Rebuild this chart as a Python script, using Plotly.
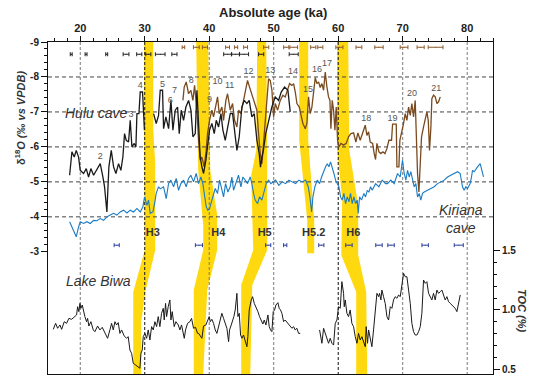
import plotly.graph_objects as go

# ---------------- data ----------------
hulu_black_age = [18.35, 18.71, 19.07, 19.38, 19.74, 20.0, 20.52, 20.93, 21.29, 21.65, 22.07, 22.48, 22.84, 23.10,
                  23.51, 23.77, 24.13, 24.44, 24.81, 25.17, 25.53, 25.94, 26.3, 26.61, 26.87, 27.13, 27.49, 27.75,
                  28.01, 28.37, 28.63, 28.79, 29.10, 29.30, 29.66, 29.82, 29.95, None,
                  31.37, 31.78, 32.14, 32.40, 32.76, 32.92, 33.28, 33.70, 34.06, 34.37, 34.73, 35.09, 35.35, 35.66,
                  36.02, 36.38, 36.80, 37.16, 37.47, 37.83, 38.09, 38.40, 38.60, 38.86, 39.12, 39.48, 39.74, 40.05,
                  40.41, 40.78, 41.09, 41.45, 41.81, 42.12, 42.48, 42.84, 43.26, 43.62, 43.93, 44.29, 44.65, 45.06,
                  45.43, 45.84, 46.20, 46.61, 46.98, 47.39, 47.75, 47.95, 48.17, 48.4, 48.76, 49.19, 49.5, 49.71,
                  50.23, 50.75, 51.16, 51.68, 52.2, 52.56]
hulu_black_d18o = [-5.19, -5.86, -5.71, -5.90, -5.71, -5.33, -5.24, -5.38, -5.14, -5.38, -5.19, -5.33, -5.43, -5.52,
                   -5.14, -4.86, -4.14, -5.43, -5.90, -5.43, -5.24, -5.52, -5.33, -5.71, -6.38, -6.19, -6.14, -6.76,
                   -6.0, -6.10, -6.0, -6.95, -6.95, -7.57, -7.57, -6.57, -6.48, None,
                   -6.95, -6.67, -6.9, -7.62, -7.62, -6.52, -6.86, -6.52, -7.33, -6.48, -7.05, -7.14, -6.38, -7.05,
                   -6.76, -7.14, -7.33, -7.05, -6.29, -6.38, -7.62, -6.38, -5.71, -5.43, -5.24, -5.62, -6.0, -6.48,
                   -6.67, -6.38, -6.76, -6.57, -6.95, -6.48, -6.19, -6.52, -6.95, -6.95, -6.38, -5.90, -6.29, -7.14,
                   -7.33, -7.24, -7.33, -6.86, -6.95, -6.19, -5.81, -5.42, -5.71, -5.9, -6.38, -6.76, -6.95, -7.14,
                   -7.43, -7.33, -7.57, -7.71, -7.62, -7.0]

hulu_brown_age = [35.92, 36.12, 36.43, 36.80, 37.16, 37.47, 37.73, 38.09, 38.35, 38.60, 38.86, 39.22, 39.53, 39.74,
                  40.05, 40.41, 40.67, 41.09, 41.29, 41.55, 41.96, 42.22, 42.58, 42.84, 43.26, 43.62, 43.93, 44.29,
                  44.55, 44.91, 45.22, 45.58, 45.94, 46.25, 46.61, 46.98, 47.39, 47.65, 47.91, 48.17, 48.42, 48.68,
                  48.94, 49.2, 49.46, 49.72, 49.98, 50.24, 50.6, 51.01, 51.42, 51.79, 52.15, 52.46, 52.82, 53.08,
                  53.34, 53.6, 53.96, 54.21, 54.52, 54.89, 55.14, 55.4, 55.66, 55.92, 56.18, 56.44, 56.7, 56.95,
                  57.21, 57.47, 57.73, 57.99, 58.25, 58.5, 58.71, 58.87, 59.07, 59.28, 59.49, 59.69, 59.9, 60.1,
                  60.42, 60.83, 61.24, 61.6, 61.97, 62.38, 62.74, 63.05, 63.41, 63.78, 64.19, 64.45, 64.71, 64.96,
                  65.33, 65.58, 65.79, 66.0, 66.31, 66.62, 66.93, 67.24, 67.55, 67.86, 68.27, 68.43, 69.0, 69.1,
                  69.41, 69.56, 69.82, 70.13, 70.39, 70.65, 70.91, 71.17, 71.42, 71.68, 71.94, 72.1, 72.3, 72.51,
                  72.72, 72.92, 73.23, 73.49, 73.75, 73.96, 74.16, 74.37, 74.52, 74.78, 75.04, 75.3, 75.56, 75.82]
hulu_brown_d18o = [-7.33, -7.71, -7.86, -7.52, -7.62, -7.33, -7.76, -7.05, -6.19, -5.62, -5.71, -5.43, -5.9, -6.38,
                   -6.76, -7.05, -6.86, -7.33, -7.43, -6.95, -7.14, -6.76, -7.33, -7.52, -7.05, -7.24, -6.76, -6.57,
                   -7.05, -6.95, -7.24, -7.52, -7.90, -7.71, -7.52, -7.33, -7.05, -6.38, -5.81, -5.52, -6.19, -6.86,
                   -7.33, -7.95, -7.90, -7.62, -6.86, -7.24, -7.05, -7.33, -7.48, -7.43, -7.67, -7.81, -7.76, -7.81,
                   -7.57, -7.24, -7.14, -6.9, -6.67, -6.52, -6.67, -7.43, -6.95, -7.14, -7.57, -7.98, -7.81, -7.86,
                   -7.7, -7.81, -7.62, -8.14, -7.71, -7.43, -7.33, -6.52, -7.33, -7.05, -6.48, -7.14, -6.19, -6.0,
                   -6.1, -6.05, -6.1, -6.29, -6.38, -6.4, -6.14, -6.4, -6.19, -6.38, -6.62, -6.33, -6.43, -6.14,
                   -6.1, -5.81, -5.64, -6.1, -5.86, -5.81, -5.86, -5.81, -5.95, -6.19, -6.19, -6.65, -6.65, -5.43,
                   -5.43, -6.19, -6.38, -6.67, -6.95, -6.76, -7.14, -6.9, -7.24, -6.86, -7.33, -6.19, -5.24, -4.71,
                   -5.43, -6.29, -6.57, -6.76, -7.0, -6.76, -5.9, -6.57, -7.38, -7.48, -7.43, -7.24, -7.29, -7.43]

kiriana_age = [18.35, 18.71, 19.07, 19.38, 19.74, 20.0, 20.52, 21.03, 21.55, 22.07, 22.58, 23.10, 23.62, 24.13,
               24.65, 25.17, 25.68, 26.20, 26.72, 27.24, 27.75, 28.27, 28.79, 29.30, 29.72, 29.97, 30.34, 30.59,
               30.85, 31.27, 31.52, 31.78, 32.14, 32.4, 32.92, 33.33, 33.69, 34.05, 34.47, 34.88, 35.24, 35.6,
               36.02, 36.43, 36.79, 37.15, 37.57, 37.98, 38.34, 38.71, 39.01, 39.27, 39.53, 39.79, 40.05, 40.26,
               40.57, 40.93, 41.29, 41.6, 41.86, 42.22, 42.53, 42.89, 43.25, 43.51, 43.77, 44.18, 44.54, 44.91,
               45.22, 45.58, 45.94, 46.35, 46.61, 46.87, 47.13, 47.49, 47.8, 48.16, 48.52, 48.83, 49.2, 49.56,
               50.29, 50.8, 51.32, 51.84, 52.35, 52.87, 53.39, 53.9, 54.42, 54.94, 55.35, 55.61, 55.87, 56.08,
               56.38, 56.75, 57.11, 57.42, 57.78, 58.04, 58.3, 58.56, 58.81, 59.07, 59.33, 59.59, 59.85, 60.1,
               60.36, 60.62, 60.88, 61.14, 61.4, 61.66, 61.91, 62.17, 62.43, 62.69, 62.95, 63.1, 63.31, 63.62,
               63.98, 64.24, 64.5, 64.76, 65.02, 65.27, 65.79, 66.31, 66.82, 67.34, 67.65, 68.16, 68.68, 69.2,
               69.61, 69.97, 70.23, 70.49, 70.75, 71.01, 71.26, 71.52, 71.78, 72.04, 72.3, 72.56, 72.81, 73.07,
               73.33, 73.85, 74.36, 74.88, 75.4, 75.92, 76.43, 76.95, 77.47, 77.98, 78.5, 78.91, 79.27, 79.53,
               79.79, 80.05, 80.46, 80.67, 80.82, 81.08, 81.34, 81.6, 82.01, 82.22, 82.53]
kiriana_d18o = [-3.86, -3.71, -3.52, -3.43, -3.71, -3.86, -3.81, -3.86, -3.81, -3.90, -3.89, -3.95, -3.90, -4.0,
                -4.05, -4.10, -4.05, -4.14, -4.19, -4.11, -4.19, -4.14, -4.24, -4.14, -4.29, -4.57, -4.33, -4.48,
                -4.10, -4.14, -4.38, -4.67, -4.86, -4.8, -4.86, -4.52, -4.95, -5.05, -4.86, -5.10, -4.76, -4.95,
                -5.05, -4.86, -5.10, -5.19, -5.0, -5.24, -4.95, -5.14, -4.95, -4.57, -4.29, -4.19, -4.24, -4.38,
                -4.57, -4.81, -4.67, -5.05, -4.86, -4.57, -4.95, -4.71, -4.86, -5.14, -4.76, -5.0, -5.19, -4.86,
                -5.14, -5.05, -4.95, -5.14, -4.95, -4.67, -4.48, -4.38, -4.57, -4.48, -4.76, -4.95, -5.05, -4.95,
                -5.05, -4.90, -5.0, -4.95, -5.05, -5.0, -4.95, -5.05, -5.0, -5.05, -4.86, -4.57, -4.14, -4.57,
                -4.86, -5.05, -4.95, -5.14, -5.33, -5.43, -5.52, -5.43, -5.57, -5.43, -5.24, -5.05, -4.95, -4.86,
                -4.57, -4.48, -4.67, -4.38, -4.57, -4.43, -4.67, -4.38, -4.57, -4.38, -4.48, -4.10, -4.57, -4.48,
                -4.67, -4.57, -4.76, -4.71, -4.86, -4.76, -4.95, -4.86, -5.05, -4.95, -4.95, -5.05, -4.95, -5.24,
                -5.14, -5.62, -5.24, -5.05, -5.33, -5.14, -5.29, -5.05, -4.86, -4.95, -4.57, -4.67, -4.48, -4.67,
                -4.71, -4.76, -4.81, -4.86, -4.95, -5.0, -5.05, -5.14, -5.19, -5.24, -5.29, -5.24, -4.86, -4.76,
                -4.86, -4.81, -4.95, -5.14, -5.33, -5.29, -5.38, -5.43, -5.52, -5.33, -5.14]

biwa_age = [15.82, 16.18, 16.49, 16.85, 17.11, 17.52, 17.88, 18.24, 18.66, 19.07, 19.43, 19.59, 19.79, 19.95, 20.1,
            20.31, 20.52, 20.72, 20.98, 21.14, 21.34, 21.65, 22.02, 22.27, 22.69, 23.05, 23.41, 23.83, 24.24, 24.6,
            24.86, 25.12, 25.38, 25.63, 25.89, 26.15, 26.41, 26.82, 27.18, 27.44, 27.7, 27.96, 28.22, 28.58, 28.89,
            29.25, 29.41, 29.61, 29.77, 30.03, 30.29, 30.54, 30.8, 31.06, 31.32, 31.58, 31.84, 32.09, 32.35, 32.61,
            32.87, 33.02, 33.23, 33.39, 33.64, 33.9, 34.06, 34.26, 34.57, 34.83, 35.2, 35.45, 35.71, 36.13, 36.33,
            36.64, 37.0, 37.26, 37.57, 37.88, 38.19, 38.35, 38.86, 39.12, 39.48, 39.79, 40.0, 40.16, 40.41, 40.67,
            40.93, 41.19, 41.45, 41.71, 41.96, 42.22, 42.48, 42.74, 43.0, 43.15, 43.41, 43.62, 43.82, 44.03, 44.29,
            44.45, 44.65, 44.86, 45.07, 45.32, 45.58, 45.84, 45.99, 46.2, 46.51, 46.72, 46.98, 47.24, 47.55, 47.8,
            48.06, 48.32, 48.53, 48.79, 49.1, 49.3, 49.51, 49.72, 49.92, 50.13, 50.34, 50.65, 50.85, 51.06, 51.27,
            51.53, 51.78, 52.04, 52.4, 52.82, 53.08, 53.33, 53.59, 53.85, 54.11, None,
            57.11, 57.47, 57.73, 57.99, 58.25, 58.5, 58.76, 59.02, 59.28, 59.54, 59.8, 60.05, 60.31, 60.57, 60.83,
            60.93, 61.09, 61.35, 61.6, 61.86, 62.12, 62.38, 62.64, 62.9, 63.15, 63.41, 63.67, 63.93, 64.19, 64.34,
            64.55, 64.71, 64.96, 65.22, 65.48, 65.74, 66.0, 66.26, 66.41, 66.62, 66.77, 67.03, 67.29, 67.55, 67.81,
            68.07, 68.32, 68.58, 68.84, 69.1, 69.36, 69.62, 69.87, 70.13, 70.39, 70.65, 70.91, 71.17, 71.42, 71.68,
            71.94, 72.2, 72.46, 72.72, 72.97, 73.23, 73.49, 73.75, 74.01, 74.27, 74.52, 74.78, 75.04, 75.3, 75.56,
            75.82, 76.08, 76.33, 76.59, 76.85, 77.11, 77.37, 77.63, 77.88, 78.14, 78.4, 78.66, 78.92]
biwa_toc = [0.836, 0.887, 0.845, 0.873, 0.836, 0.901, 0.887, 0.929, 0.921, 0.938, 0.958, 1.028, 0.986, 1.056, 1.014,
            1.042, 0.972, 0.944, 0.901, 0.929, 0.864, 0.901, 0.831, 0.816, 0.864, 0.831, 0.853, 0.802, 0.76, 0.831,
            0.887, 0.831, 0.901, 0.873, 0.893, 0.802, 0.831, 0.78, 0.76, 0.774, 0.661, 0.633, 0.548, 0.534, 0.52,
            0.506, 0.633, 0.661, 0.774, 0.802, 0.76, 0.831, 0.746, 0.859, 0.831, 0.901, 0.859, 0.944, 0.859, 0.972,
            1.014, 0.915, 1.056, 0.944, 1.028, 1.085, 0.915, 0.986, 0.859, 0.901, 0.873, 0.831, 0.873, 0.76, 0.831,
            0.887, 0.901, 0.929, 0.845, 0.853, 0.802, 0.802, 0.760, 0.864, 0.873, 0.915, 0.944, 0.901, 0.921, 0.887,
            0.831, 0.802, 0.859, 0.915, 0.972, 0.929, 0.887, 0.845, 0.732, 0.831, 0.873, 0.901, 0.944, 1.0, 1.141,
            0.944, 0.972, 0.788, 0.760, 0.788, 0.746, 0.689, 0.774, 1.0, 1.085, 1.113, 1.056, 1.028, 0.986, 0.944,
            0.915, 0.881, 0.915, 0.873, 0.958, 0.859, 0.831, 0.816, 0.986, 1.0, 1.042, 1.062, 1.014, 1.0, 0.972,
            0.901, 0.915, 0.901, 0.873, 0.845, 0.859, 0.831, 0.845, 0.802, 0.802, None,
            0.831, 0.718, 0.845, 0.802, 0.774, 0.718, 0.760, 0.718, 0.703, 0.887, 0.915, 1.028, 1.014, 1.240, 1.141,
            1.028, 1.085, 0.972, 0.944, 1.0, 0.887, 0.859, 0.774, 0.718, 0.802, 0.746, 0.774, 0.732, 0.689, 0.859,
            0.718, 0.831, 0.774, 0.689, 0.831, 0.972, 1.141, 1.113, 1.141, 1.085, 1.169, 1.113, 1.056, 0.944, 0.915,
            1.028, 1.014, 1.085, 1.113, 1.099, 1.127, 1.113, 1.198, 1.311, 1.282, 1.282, 1.169, 1.056, 0.887, 0.816,
            0.788, 0.788, 0.816, 0.859, 0.972, 1.254, 1.226, 1.240, 1.141, 1.113, 1.085, 1.141, 1.085, 1.169, 1.141,
            1.155, 1.169, 1.127, 1.085, 1.113, 1.071, 1.056, 1.042, 1.028, 1.014, 0.986, 1.056, 1.127]

# Heinrich-event bands (age, d18O-axis) polygons
heinrich_names = ["H3", "H4", "H5", "H5.2", "H6"]
heinrich_age = [
    [29.92, 29.92, 30.0, 28.22, 28.22, 29.46, 29.46, 30.08, 31.63, 31.63, 31.32, 31.32],
    [37.98, 38.29, 39.07, 39.07, 37.6, 37.6, 39.07, 39.69, 41.24, 41.24, 40.16, 39.84],
    [47.44, 47.29, 46.51, 46.82, 44.96, 44.96, 46.36, 46.67, 48.99, 48.99, 48.84],
    [53.95, 53.95, 55.19, 55.19, 56.28, 56.28, 55.35, 55.35],
    [59.84, 59.84, 60.62, 60.47, 62.79, 62.79, 64.5, 64.34, 63.1, 63.1, 61.71, 61.55],
]
heinrich_d18o = [
    [-9.0, -6.0, -3.05, -1.85, 0.5, 0.5, -1.0, -1.85, -3.05, -5.5, -6.5, -9.0],
    [-9.0, -5.33, -3.76, -3.05, -1.91, 0.5, 0.5, -1.91, -3.05, -4.05, -5.33, -9.0],
    [-9.0, -5.91, -5.19, -3.05, -2.05, 0.5, 0.5, -2.05, -3.05, -5.91, -9.0],
    [-9.0, -6.19, -3.91, -2.96, -2.96, -3.91, -6.19, -9.0],
    [-9.0, -5.91, -4.48, -2.91, -1.85, 0.5, 0.5, -1.85, -2.91, -4.33, -5.91, -9.0],
]
heinrich_label_age = [31.24, 41.4, 48.6, 56.2, 62.33]
heinrich_label_d18o = -3.53

# U-Th dating error bars (centre age, half-width)
date_black_age = [18.6, 20.9, 24.1, 27.1, 29.15, 30.55, 32.4, 34.6, 42.84, 44.08, 45.4, 48.05, 53.1]
date_black_err = [0.15, 0.15, 0.15, 0.45, 0.4, 0.4, 0.75, 0.4, 0.6, 0.6, 0.7, 0.4, 0.7]
date_brown_age = [36.0, 38.0, 39.34, 42.84, 44.16, 45.64, 48.83, 51.94, 53.1, 56.13, 57.22, 60.18, 63.21, 66.32,
                  70.21, 72.78, 75.1]
date_brown_err = [0.2, 0.45, 0.4, 0.3, 0.25, 0.3, 0.4, 0.4, 0.6, 0.4, 0.4, 0.55, 0.45, 0.65, 0.6, 0.55, 1.15]
date_blue_age = [25.65, 38.4, 49.14, 51.78, 57.38, 61.66, 66.32, 68.19, 73.48, 78.69]
date_blue_err = [0.4, 0.55, 0.4, 0.25, 0.4, 0.5, 0.5, 0.5, 0.5, 0.7]
date_black_row, date_brown_row, date_blue_row = -8.65, -8.85, -3.19

# interstadial numbers
is_labels = [str(i) for i in range(2, 22)]
is_age = [23.1, 27.86, 29.3, 32.76, 33.95, 34.62, 37.21, 40.05, 41.29, 43.15, 46.09, 49.46, 52.98, 55.3, 56.7,
          58.25, 64.34, 68.42, 71.43, 75.19]
is_d18o = [-5.71, -6.91, -7.76, -7.79, -7.33, -7.6, -7.89, -7.35, -7.86, -7.76, -8.14, -8.19, -8.14, -7.64, -8.22,
           -8.38, -6.81, -6.81, -7.51, -7.67]

age_ticks = [20, 30, 40, 50, 60, 70, 80]
d18o_ticks = [-9, -8, -7, -6, -5, -4, -3]
toc_ticks = [0.5, 1.0, 1.5]
hgrid = [-8, -7, -6, -5, -4]

# ---------------- figure ----------------
FONT = "Liberation Sans"
X_RANGE = [15, 84]
Y_RANGE = [0.494, -9]
Y2_RANGE = [0.4576, 3.271]

fig = go.Figure()

# yellow bands
for ax_, ay_ in zip(heinrich_age, heinrich_d18o):
    fig.add_trace(go.Scatter(x=ax_, y=ay_, fill="toself", fillcolor="#ffd90f", mode="none",
                             hoverinfo="skip", showlegend=False))

# grid lines
for v in age_ticks:
    col = "#111111" if v in (30, 60) else "#7a7a7a"
    fig.add_trace(go.Scatter(x=[v, v], y=[Y_RANGE[1], Y_RANGE[0]], mode="lines",
                             line=dict(color=col, width=1, dash="3px,2px"), hoverinfo="skip", showlegend=False))
for v in hgrid:
    fig.add_trace(go.Scatter(x=X_RANGE, y=[v, v], mode="lines",
                             line=dict(color="#444444", width=1, dash="4px,3px"), hoverinfo="skip", showlegend=False))

# records
fig.add_trace(go.Scatter(x=kiriana_age, y=kiriana_d18o, mode="lines", line=dict(color="#1b7bc4", width=1.1),
                         showlegend=False))
fig.add_trace(go.Scatter(x=hulu_brown_age, y=hulu_brown_d18o, mode="lines", line=dict(color="#7a4a1f", width=1.3),
                         showlegend=False))
fig.add_trace(go.Scatter(x=hulu_black_age, y=hulu_black_d18o, mode="lines", line=dict(color="#1a1a1a", width=1.3),
                         showlegend=False))
fig.add_trace(go.Scatter(x=biwa_age, y=biwa_toc, mode="lines", line=dict(color="#1a1a1a", width=1),
                         yaxis="y2", showlegend=False))

# dating error bars
for ages, errs, row, col in [(date_black_age, date_black_err, date_black_row, "#222222"),
                             (date_brown_age, date_brown_err, date_brown_row, "#8b5a2b"),
                             (date_blue_age, date_blue_err, date_blue_row, "#2b3f9e")]:
    fig.add_trace(go.Scatter(x=ages, y=[row] * len(ages), mode="markers", marker=dict(size=1, color=col),
                             error_x=dict(type="data", array=errs, symmetric=True, color=col, thickness=1, width=2),
                             showlegend=False))

# text labels
fig.add_trace(go.Scatter(x=is_age, y=is_d18o, mode="text", text=is_labels,
                         textfont=dict(family=FONT, size=9, color="#555555"), showlegend=False))
fig.add_trace(go.Scatter(x=heinrich_label_age, y=[heinrich_label_d18o] * len(heinrich_label_age), mode="text",
                         text=["<b>%s</b>" % n for n in heinrich_names],
                         textfont=dict(family=FONT, size=11, color="#333333"), showlegend=False))

ann = []
ann.append(dict(x=17.36, y=-6.96, xref="x", yref="y", text="<i>Hulu cave</i>", showarrow=False, xanchor="left",
                font=dict(family=FONT, size=14, color="#333333")))
ann.append(dict(x=17.52, y=-2.16, xref="x", yref="y", text="<i>Lake Biwa</i>", showarrow=False, xanchor="left",
                font=dict(family=FONT, size=14, color="#333333")))
ann.append(dict(x=79.07, y=-3.93, xref="x", yref="y", text="<i>Kiriana<br>cave</i>", showarrow=False,
                align="center", font=dict(family=FONT, size=14, color="#333333")))
ann.append(dict(x=0.506, y=1.09, xref="paper", yref="paper", text="<b>Absolute age (ka)</b>", showarrow=False,
                xanchor="center", yanchor="middle", font=dict(family=FONT, size=13, color="#222222")))
ann.append(dict(x=-0.063, y=0.771, xref="paper", yref="paper", textangle=-90, xanchor="center", yanchor="middle",
                text="<b>δ<sup>18</sup><i>O (‰ vs VPDB)</i></b>", showarrow=False,
                font=dict(family=FONT, size=11, color="#333333")))
ann.append(dict(x=1.065, y=0.19, xref="paper", yref="paper", textangle=90, xanchor="center", yanchor="middle",
                text="<b><i>TOC (%)</i></b>", showarrow=False,
                font=dict(family=FONT, size=11, color="#333333")))

fig.update_layout(
    width=533, height=376, margin=dict(l=48, r=40, t=42, b=2, autoexpand=False),
    paper_bgcolor="white", plot_bgcolor="white", annotations=ann,
    font=dict(family=FONT),
    xaxis=dict(range=X_RANGE, side="top", showgrid=False, zeroline=False, showline=True, mirror=True,
               automargin=False,
               linecolor="#111111", linewidth=1, ticks="outside", ticklen=5, tickcolor="#111111",
               tickmode="array", tickvals=age_ticks, ticktext=["<b>%d</b>" % v for v in age_ticks],
               tickfont=dict(family=FONT, size=11, color="#222222"),
               minor=dict(tickmode="array", tickvals=[v for v in range(16, 85, 2) if v % 10], ticks="outside",
                          ticklen=3, tickcolor="#111111")),
    yaxis=dict(range=Y_RANGE, showgrid=False, zeroline=False, showline=True, mirror=True,
               automargin=False,
               linecolor="#111111", linewidth=1, ticks="outside", ticklen=6, tickcolor="#111111",
               tickmode="array", tickvals=d18o_ticks, ticktext=["<b>%d</b>" % v for v in d18o_ticks],
               tickfont=dict(family=FONT, size=10, color="#222222"),
               minor=dict(tickmode="array", tickvals=[round(-9 + 0.2 * i, 1) for i in range(31) if i % 5],
                          ticks="outside", ticklen=3, tickcolor="#111111")),
    yaxis2=dict(range=Y2_RANGE, overlaying="y", side="right", showgrid=False, zeroline=False, showline=False,
                automargin=False,
                ticks="outside", ticklen=6, tickcolor="#111111",
                tickmode="array", tickvals=toc_ticks, ticktext=["<b>%.1f</b>" % v for v in toc_ticks],
                tickfont=dict(family=FONT, size=10, color="#222222"),
                minor=dict(tickmode="array", tickvals=[0.6, 0.7, 0.8, 0.9, 1.1, 1.2, 1.3, 1.4], ticks="outside",
                           ticklen=3, tickcolor="#111111")),
)

# remove the default 8px page margin so the 533x376 figure fills the window exactly
fig.write_html("out.html", config={"displayModeBar": False},
               post_script="document.body.style.margin='0px';")
